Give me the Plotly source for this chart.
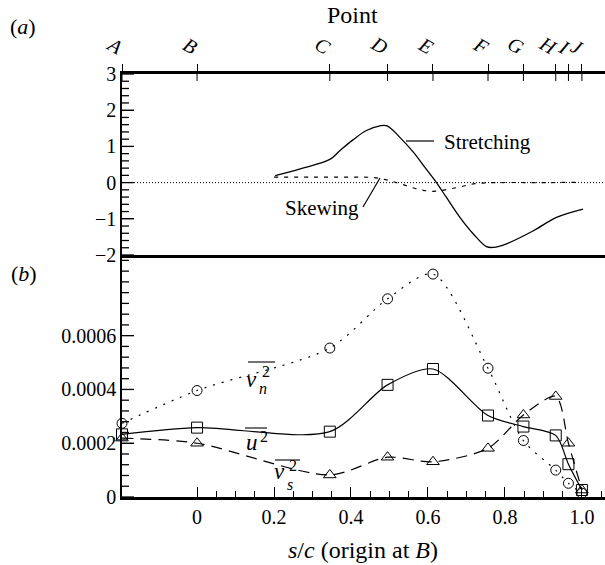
import plotly.graph_objects as go

# ---------------- data ----------------
points = ["A", "B", "C", "D", "E", "F", "G", "H", "I", "J"]
point_s = [-0.195, 0.0, 0.345, 0.495, 0.613, 0.756, 0.848, 0.932, 0.965, 1.0]

# panel (b): Reynolds normal stresses at the points
vn2 = [0.000274, 0.000396, 0.000554, 0.000737, 0.000829, 0.000479, 0.000210, 0.000100, 0.000051, 0.000014]
u2 = [0.000233, 0.000258, 0.000243, 0.000417, 0.000476, 0.000303, 0.000262, 0.000229, 0.000122, 0.000026]
vs2 = [0.000219, 0.000200, 0.000082, 0.000148, 0.000131, 0.000181, 0.000305, 0.000374, 0.000200, 0.000026]

# panel (a): stretching and skewing terms
stretch_s = [0.203, 0.268, 0.345, 0.371, 0.405, 0.44, 0.475, 0.494, 0.527, 0.562, 0.592, 0.618,
             0.648, 0.683, 0.718, 0.752, 0.77, 0.804, 0.874, 0.934, 1.003]
stretch_v = [0.19, 0.38, 0.64, 0.88, 1.18, 1.44, 1.57, 1.57, 1.25, 0.84, 0.42, 0.06,
             -0.41, -0.96, -1.42, -1.77, -1.79, -1.69, -1.33, -0.96, -0.73]
skew_s = [0.2, 0.3, 0.4, 0.457, 0.49, 0.527, 0.57, 0.613, 0.674, 0.722, 0.78, 0.9, 1.0]
skew_v = [0.15, 0.15, 0.15, 0.14, 0.08, -0.03, -0.17, -0.24, -0.14, -0.03, 0.0, 0.0, 0.01]

xticks = [0, 0.2, 0.4, 0.6, 0.8, 1.0]
xticktext = ["0", "0.2", "0.4", "0.6", "0.8", "1.0"]
xminor = [0.05, 0.1, 0.15, 0.25, 0.3, 0.35, 0.45, 0.5, 0.55, 0.65, 0.7, 0.75, 0.85, 0.9, 0.95, 1.05]
ya_ticks = [-2, -1, 0, 1, 2, 3]
ya_minor = [round(-2 + 0.2 * i, 1) for i in range(26)]
yb_ticks = [0, 0.0002, 0.0004, 0.0006]
yb_ticktext = ["0", "0.0002", "0.0004", "0.0006"]
yb_minor = [round(0.00004 * i, 5) for i in range(23)]

XRANGE = [-0.195, 1.06]
FONT = "Liberation Serif"

# ---------------- geometry helpers (annotations only) ----------------
L, R, T, B = 122, 605, 74, 497
def px(x):
    return (x - L) / (R - L)
def py(y):
    return (B - y) / (B - T)

SPLIT = py(255)

fig = go.Figure()

# panel (a)
fig.add_trace(go.Scatter(x=stretch_s, y=stretch_v, mode="lines", line=dict(color="black", width=1.3, shape="spline"),
                         xaxis="x2", yaxis="y2", showlegend=False))
fig.add_trace(go.Scatter(x=skew_s, y=skew_v, mode="lines",
                         line=dict(color="black", width=1.2, dash="4px,6px", shape="spline"),
                         xaxis="x2", yaxis="y2", showlegend=False))

# panel (b)
fig.add_trace(go.Scatter(x=point_s, y=vn2, mode="lines+markers",
                         line=dict(color="black", width=1.2, dash="2px,7px", shape="spline", smoothing=0.8),
                         marker=dict(symbol="circle-open", size=10, color="black"), cliponaxis=False, showlegend=False))
fig.add_trace(go.Scatter(x=point_s, y=u2, mode="lines+markers",
                         line=dict(color="black", width=1.2, shape="spline", smoothing=0.8),
                         marker=dict(symbol="square-open", size=11, color="black"), cliponaxis=False, showlegend=False))
fig.add_trace(go.Scatter(x=point_s, y=vs2, mode="lines+markers",
                         line=dict(color="black", width=1.2, dash="11px,7px", shape="spline", smoothing=0.8),
                         marker=dict(symbol="triangle-up-open", size=11, color="black"), cliponaxis=False, showlegend=False))

fig.update_layout(
    width=605, height=565,
    margin=dict(l=L, r=605 - R, t=T, b=565 - B),
    paper_bgcolor="white", plot_bgcolor="white",
    font=dict(family=FONT, color="black", size=20),
    xaxis=dict(domain=[0, 1], anchor="y", range=XRANGE, showgrid=False, zeroline=False,
               tickvals=xticks, ticktext=xticktext, ticks="inside", ticklen=10,
               tickcolor="black", tickfont=dict(family=FONT, size=20, color="black"),
               minor=dict(tickvals=xminor, ticks="inside", ticklen=6, tickcolor="black"),
               showline=True, linecolor="black", linewidth=2.5),
    yaxis=dict(domain=[0, SPLIT], anchor="x", range=[0, 0.0009], showgrid=False, zeroline=False,
               tickvals=yb_ticks, ticktext=yb_ticktext, ticks="inside", ticklen=12, tickwidth=1.3,
               tickcolor="black", tickfont=dict(family=FONT, size=20, color="black"),
               showline=True, linecolor="black", linewidth=1.5),
    xaxis2=dict(domain=[0, 1], anchor="y2", range=XRANGE, side="top", showgrid=False, zeroline=False,
                tickvals=point_s, ticktext=["<i>%s</i>" % p for p in points],
                ticks="outside", ticklen=7, tickcolor="black", tickfont=dict(family=FONT, size=20, color="black"),
                showline=True, mirror=True, linecolor="black", linewidth=2.5),
    yaxis2=dict(domain=[SPLIT, 1], anchor="x2", range=[-2, 3], showgrid=False, zeroline=False,
                tickvals=ya_ticks, ticks="inside", ticklen=12, tickwidth=1.3,
                tickcolor="black", tickfont=dict(family=FONT, size=20, color="black"),
                showline=True, linecolor="black", linewidth=1.5),
)

# zero reference line in panel (a)
fig.add_shape(type="line", xref="paper", yref="y2", x0=0, x1=1, y0=0, y1=0,
              line=dict(color="black", width=1, dash="1px,2px"))
# inner halves of the crossing "Point" ticks
for s in point_s:
    fig.add_shape(type="line", xref="x2", yref="paper", x0=s, x1=s, y0=1, y1=py(T + 7),
                  line=dict(color="black", width=1))

# left-axis tick marks (drawn inside the plot, from the tick arrays)
def ytick(yref, v, length):
    fig.add_shape(type="line", xref="paper", yref=yref, x0=0, x1=px(L + length), y0=v, y1=v,
                  line=dict(color="black", width=1.3))

for v in ya_minor:
    ytick("y2", v, 12 if v in ya_ticks else 7)
for v in yb_minor:
    ytick("y", v, 12 if any(abs(v - t) < 1e-9 for t in yb_ticks) else 7)

def text(x, y, s, size=20, xanchor="center", yanchor="middle"):
    fig.add_annotation(x=px(x), y=py(y), xref="paper", yref="paper", text=s, showarrow=False,
                       xanchor=xanchor, yanchor=yanchor, font=dict(family=FONT, size=size, color="black"))

text(23, 27, "(<i>a</i>)", 22)
text(24, 273, "(<i>b</i>)", 22)
text(352, 15, "Point", 24)
text(363, 550, "<i>s</i>/<i>c</i> (origin at <i>B</i>)", 24)
text(442, 142, "Stretching", 21, xanchor="left")
text(361, 208, "Skewing", 21, xanchor="right")

# overlined stress labels
text(251.5, 379, "<i>v</i>", 23)
text(265.5, 371, "2", 16)
text(262.5, 388, "<i>n</i>", 16)
text(252, 442, "<i>u</i>", 23)
text(263.5, 436, "2", 16)
text(279, 471, "<i>v</i>", 23)
text(293, 465, "2", 16)
text(289.5, 484, "<i>s</i>", 16)

def seg(x0, y0, x1, y1, w=1.2):
    fig.add_shape(type="line", xref="paper", yref="paper", x0=px(x0), y0=py(y0), x1=px(x1), y1=py(y1),
                  line=dict(color="black", width=w))

seg(406, 141, 434, 141)
seg(363, 207, 380, 178)
seg(248, 362, 275, 362, 1.1)
seg(245, 428, 267, 428, 1.1)
seg(275, 460, 300, 460, 1.1)

fig.write_html("out.html")
